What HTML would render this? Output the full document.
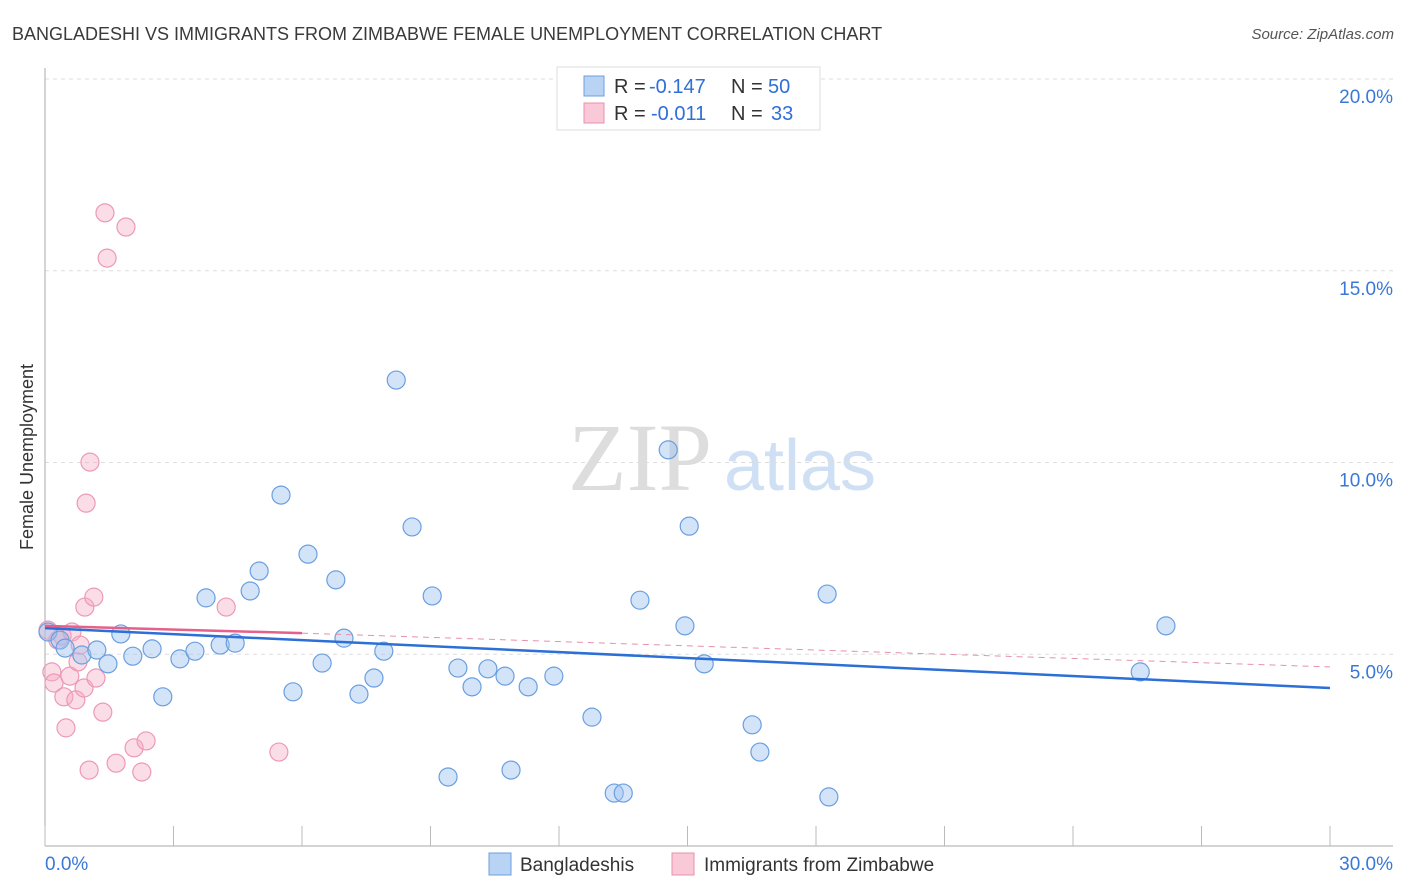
<!DOCTYPE html>
<html><head><meta charset="utf-8"><style>
body{margin:0;background:#fff;font-family:"Liberation Sans",sans-serif;}
svg{display:block}
</style></head><body>
<svg id="c" width="1406" height="892" xmlns="http://www.w3.org/2000/svg">
<text x="12" y="40" font-size="18" fill="#3a3a3a">BANGLADESHI VS IMMIGRANTS FROM ZIMBABWE FEMALE UNEMPLOYMENT CORRELATION CHART</text>
<text x="1394" y="39" font-size="15" fill="#555" font-style="italic" text-anchor="end">Source: ZipAtlas.com</text>
<text x="640" y="490" font-size="96" fill="#ddd" font-family="Liberation Serif,serif" text-anchor="middle">ZIP</text>
<text x="800" y="490" font-size="72" fill="#cfe0f5" text-anchor="middle">atlas</text>
<text x="33" y="457" font-size="18" fill="#333" text-anchor="middle" transform="rotate(-90 33 457)">Female Unemployment</text>
<g id="grid"></g><g id="pts"></g><g id="lines"></g>
<g>
<rect x="557" y="67" width="263" height="63" fill="#fff" stroke="#ddd"/>
<rect x="584" y="76" width="20" height="20" fill="#b9d3f5" stroke="#6a9fe0"/>
<rect x="584" y="103" width="20" height="20" fill="#f9c9d8" stroke="#e890ab"/>
<text x="614" y="93" font-size="20" fill="#333">R =</text>
<text x="649" y="93" font-size="20" fill="#2f6fd6">-0.147</text>
<text x="731" y="93" font-size="20" fill="#333">N =</text>
<text x="768" y="93" font-size="20" fill="#2f6fd6">50</text>
<text x="614" y="120" font-size="20" fill="#333">R =</text>
<text x="651" y="120" font-size="20" fill="#2f6fd6">-0.011</text>
<text x="731" y="120" font-size="20" fill="#333">N =</text>
<text x="771" y="120" font-size="20" fill="#2f6fd6">33</text>
</g>
<g>
<rect x="489" y="853" width="22" height="22" fill="#b9d3f5" stroke="#6a9fe0"/>
<text x="520" y="871" font-size="19" fill="#333">Bangladeshis</text>
<rect x="672" y="853" width="22" height="22" fill="#f9c9d8" stroke="#e890ab"/>
<text x="704" y="871" font-size="19" fill="#333">Immigrants from Zimbabwe</text>
</g>
</svg>
<script>
const yTicks=[5,10,15,20];
const yTickLabels=["5.0%","10.0%","15.0%","20.0%"];
const xTicks=[0,3,6,9,12,15,18,21,24,27,30];
const blueX=[0.07,0.35,0.47,0.86,1.21,1.47,1.77,2.05,2.50,2.75,3.15,3.50,3.76,4.09,4.44,4.79,5.00,5.51,5.79,6.14,6.47,6.79,6.98,7.33,7.68,7.91,8.20,8.57,9.04,9.41,9.64,9.97,10.34,10.74,10.88,11.28,11.88,12.77,13.29,13.50,13.89,14.55,14.94,15.04,15.39,16.51,16.69,18.26,18.30,25.57,26.17];
const blueY=[5.58,5.37,5.16,4.98,5.11,4.75,5.53,4.95,5.14,3.89,4.88,5.08,6.47,5.24,5.29,6.65,7.17,9.15,4.02,7.61,4.77,6.94,5.42,3.96,4.38,5.08,12.15,8.32,6.52,1.80,4.64,4.15,4.62,4.43,1.98,4.15,4.43,3.36,1.38,1.38,6.41,10.33,5.74,8.34,4.75,3.16,2.45,6.57,1.28,4.54,5.74];
const pinkX=[0.07,0.16,0.21,0.30,0.40,0.44,0.49,0.58,0.63,0.72,0.77,0.82,0.91,0.93,0.96,1.03,1.05,1.14,1.19,1.35,1.40,1.45,1.66,1.89,2.08,2.26,2.36,4.23,5.46];
const pinkY=[5.63,4.54,4.25,5.37,5.48,3.89,3.08,4.43,5.58,3.81,4.80,5.24,4.12,6.23,8.94,1.98,10.01,6.49,4.38,3.49,16.51,15.33,2.16,16.14,2.56,1.93,2.74,6.23,2.45];
const blueTrend=[[0,5.68],[30,4.12]];
const pinkTrendSolid=[[0,5.74],[6,5.55]];
const pinkTrendDash=[[6,5.55],[30,4.67]];
const NS="http://www.w3.org/2000/svg";
const X=v=>45+v*(1285/30), Y=v=>846-v*38.35;
function mk(t,a,p){const e=document.createElementNS(NS,t);for(const k in a)e.setAttribute(k,a[k]);p.appendChild(e);return e;}
const g=document.getElementById('grid');
yTicks.forEach((t,i)=>{
 const l=mk('line',{x1:45,x2:1393,y1:Y(t),y2:Y(t),stroke:'#ddd','stroke-dasharray':'4 4'},g);
 
 
 const tx=mk('text',{x:1393,y:Y(t)+24,'font-size':19,fill:'#3a78d8','text-anchor':'end'},g);
 tx.textContent=yTickLabels[i];
 
 
});
const ax=mk('line',{x1:45,x2:45,y1:68,y2:846,stroke:'#aaa'},g);


const bx=mk('line',{x1:45,x2:1393,y1:846,y2:846,stroke:'#aaa'},g);


xTicks.forEach(t=>{
 const l=mk('line',{x1:X(t),x2:X(t),y1:826,y2:846,stroke:'#bbb'},g);
 
 
});
const x0=mk('text',{x:45,y:870,'font-size':19,fill:'#3a78d8'},g);x0.textContent='0.0%';


const x1=mk('text',{x:1393,y:870,'font-size':19,fill:'#3a78d8','text-anchor':'end'},g);x1.textContent='30.0%';


const p=document.getElementById('pts');
pinkX.forEach((v,i)=>{
 const c=mk('circle',{cx:X(v),cy:Y(pinkY[i]),r:9,fill:'rgba(246,170,195,0.4)',stroke:'#ec9ab4','stroke-width':1.2},p);
 
 
});
blueX.forEach((v,i)=>{
 const c=mk('circle',{cx:X(v),cy:Y(blueY[i]),r:9,fill:'rgba(160,195,240,0.45)',stroke:'#6a9fe0','stroke-width':1.2},p);
 
 
});
const L=document.getElementById('lines');
const a=mk('line',{x1:X(pinkTrendDash[0][0]),y1:Y(pinkTrendDash[0][1]),x2:X(pinkTrendDash[1][0]),y2:Y(pinkTrendDash[1][1]),stroke:'#e890ab','stroke-width':1,'stroke-dasharray':'6 5'},L);


const b=mk('line',{x1:X(blueTrend[0][0]),y1:Y(blueTrend[0][1]),x2:X(blueTrend[1][0]),y2:Y(blueTrend[1][1]),stroke:'#2c6fd6','stroke-width':2.5},L);


const c=mk('line',{x1:X(pinkTrendSolid[0][0]),y1:Y(pinkTrendSolid[0][1]),x2:X(pinkTrendSolid[1][0]),y2:Y(pinkTrendSolid[1][1]),stroke:'#e5608a','stroke-width':2.5},L);


</script>
</body></html>
